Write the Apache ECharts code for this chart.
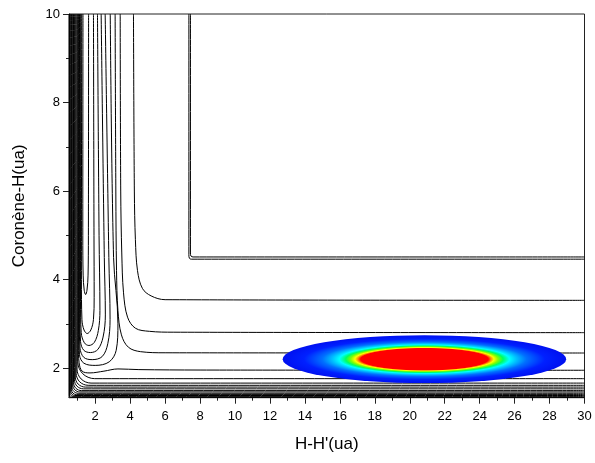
<!DOCTYPE html>
<html><head><meta charset="utf-8">
<script src="https://cdn.jsdelivr.net/npm/echarts@6/dist/echarts.min.js"></script>
<style>html,body{margin:0;padding:0;background:#fff}#c{width:595px;height:463px}</style>
</head><body><div id="c"></div>
<script>
// ---- axis ticks ----
const xLabelValues = [2,4,6,8,10,12,14,16,18,20,22,24,26,28,30];
const xMinorTicks = [1,3,5,7,9,11,13,15,17,19,21,23,25,27,29];
const yLabelValues = [2,4,6,8,10];
const yMinorTicks = [3,5,7,9];

// ---- contour lines: [H-H', Coronene-H] ----
// repulsive-wall contours (down the left edge, along the bottom)
const wallContours = [
  [[0.52,10],[0.52,1.385],[0.553,1.353],[0.634,1.34],[30,1.34]],
  [[0.56,10],[0.56,1.428],[0.61,1.38],[0.731,1.36],[30,1.36]],
  [[0.60,10],[0.60,1.47],[0.667,1.406],[0.829,1.38],[30,1.38]],
  [[0.64,10],[0.64,1.513],[0.724,1.433],[0.926,1.40],[30,1.40]],
  [[0.68,10],[0.68,1.565],[0.78,1.47],[1.023,1.43],[30,1.43]],
  [[0.72,10],[0.72,1.618],[0.837,1.506],[1.12,1.46],[30,1.46]],
  [[0.76,10],[0.76,1.671],[0.894,1.543],[1.217,1.49],[30,1.49]],
  [[0.81,10],[0.81,1.733],[0.96,1.589],[1.324,1.53],[30,1.53]],
  [[0.86,10],[0.86,1.796],[1.027,1.636],[1.431,1.57],[30,1.57]],
  [[0.91,10],[0.91,1.881],[1.11,1.689],[1.596,1.61],[30,1.61]],
  [[0.96,10],[0.96,1.976],[1.194,1.753],[1.76,1.66],[30,1.66]],
  [[1.00,10],[1.00,2.144],[1.285,1.872],[1.971,1.76],[30,1.76]],
  [[1.035,10],[1.035,2.5],[1.08,2.12],[1.25,1.93],[1.7,1.89],[2.5,1.93],[3.3,1.98],[4.5,1.965],[8,1.955],[30,1.95]]
];
// U-shaped contours of the H-H' valley
const valleyContours = [
  [[1.30,10],[1.29,5],[1.31,4.1],[1.37,3.76],[1.45,3.66],[1.53,3.76],[1.59,4.1],[1.61,5],[1.62,10]],
  [[1.23,10],[1.21,4],[1.24,3.1],[1.36,2.86],[1.54,2.78],[1.75,2.86],[1.90,3.1],[1.94,3.6],[1.93,5],[1.90,10]],
  [[1.18,10],[1.16,3.5],[1.20,2.8],[1.38,2.57],[1.64,2.51],[1.95,2.58],[2.18,2.85],[2.27,3.3],[2.22,5],[2.13,10]],
  [[1.14,10],[1.12,3.2],[1.16,2.6],[1.35,2.40],[1.73,2.35],[2.15,2.42],[2.45,2.7],[2.58,3.2],[2.52,4.5],[2.34,10]],
  [[1.10,10],[1.09,3],[1.13,2.45],[1.35,2.24],[1.83,2.19],[2.4,2.26],[2.72,2.55],[2.85,3.1],[2.78,4.5],[2.57,10]],
  [[1.07,10],[1.06,2.9],[1.1,2.3],[1.35,2.11],[2.0,2.06],[2.8,2.14],[3.2,2.4],[3.3,3.0],[3.05,4.5],[2.86,10]]
];
// shoulder contours (from the top, turning to the right)
const shoulderContours = [
  [[3.14,10],[3.18,6],[3.22,4.2],[3.3,3.3],[3.5,2.75],[3.9,2.47],[4.6,2.37],[6,2.345],[30,2.34]],
  [[3.43,10],[3.46,6],[3.52,4.6],[3.62,3.7],[3.85,3.15],[4.3,2.9],[5.1,2.83],[6.5,2.81],[30,2.80]],
  [[4.19,10],[4.24,6],[4.3,4.9],[4.42,4.2],[4.7,3.8],[5.2,3.63],[6.0,3.545],[30,3.53]],
  [[7.36,10],[7.36,4.56],[7.39,4.48],[7.5,4.46],[30,4.46]],
  [[7.45,10],[7.45,4.6],[7.48,4.53],[7.6,4.51],[30,4.51]]
];

// ---- probability density spot ----
const densityCenter = [20.84, 2.2];
const densityHalfSize = [8.11, 0.54];
const densityStops  = [0, 0.45, 0.47, 0.49, 0.52, 0.555, 0.60, 0.65, 0.72, 0.85, 1.0];
const densityColors = ['#ff0000','#ff0000','#ff9000','#ffff00','#80ff00','#00ff60','#00ffff','#00c0ff','#0070ff','#0020ff','#0010f0'];

const chart = echarts.init(document.getElementById('c'), null, {renderer:'canvas'});
const font = 'Liberation Sans, Arial, Helvetica, sans-serif';

const lineSeries = [];
[].concat(wallContours, valleyContours, shoulderContours).forEach(function(pts){
  lineSeries.push({
    type:'line', data: pts, showSymbol:false, symbol:'none', smooth:0.35,
    lineStyle:{color:'#000', width:1}, z:2, silent:true, clip:true
  });
});

const stops = densityStops.map(function(o,i){ return {offset:o, color:densityColors[i]}; });

const densitySeries = {
  type:'custom', z:5, silent:true,
  data:[[densityCenter[0], densityCenter[1], densityHalfSize[0], densityHalfSize[1]]],
  renderItem: function(params, api){
    const c = api.coord([api.value(0), api.value(1)]);
    const s = api.size([api.value(2), api.value(3)], [api.value(0), api.value(1)]);
    return {
      type:'circle', x:c[0], y:c[1], scaleX:Math.abs(s[0]), scaleY:Math.abs(s[1]),
      shape:{cx:0, cy:0, r:1},
      style:{fill:{type:'radial', x:0.5, y:0.5, r:0.5, colorStops:stops}}
    };
  }
};

const option = {
  animation:false,
  backgroundColor:'#fff',
  grid:{left:69, right:10.5, top:14, bottom:65.3, show:true, borderColor:'#222', borderWidth:1, backgroundColor:'transparent'},
  xAxis:[
    {type:'value', min:0.5, max:30, position:'bottom',
     axisLine:{show:true, onZero:false, lineStyle:{color:'#222', width:1}},
     axisTick:{show:true, inside:false, length:6, customValues:xLabelValues, lineStyle:{color:'#222'}},
     axisLabel:{customValues:xLabelValues, margin:12, fontFamily:font, fontSize:13, color:'#000'},
     splitLine:{show:false},
     name:"H-H'(ua)", nameLocation:'middle', nameGap:38,
     nameTextStyle:{fontFamily:font, fontSize:17, color:'#000'}},
    {type:'value', min:0.5, max:30, position:'bottom',
     axisLine:{show:false, onZero:false},
     axisTick:{show:true, inside:false, length:3, customValues:xMinorTicks, lineStyle:{color:'#222'}},
     axisLabel:{show:false}, splitLine:{show:false}}
  ],
  yAxis:[
    {type:'value', min:1.33, max:10, position:'left',
     axisLine:{show:true, onZero:false, lineStyle:{color:'#222', width:1}},
     axisTick:{show:true, inside:false, length:6, customValues:yLabelValues, lineStyle:{color:'#222'}},
     axisLabel:{customValues:yLabelValues, margin:9, fontFamily:font, fontSize:13, color:'#000'},
     splitLine:{show:false},
     name:'Coronène-H(ua)', nameLocation:'middle', nameGap:41,
     nameTextStyle:{fontFamily:font, fontSize:17, color:'#000'}},
    {type:'value', min:1.33, max:10, position:'left',
     axisLine:{show:false, onZero:false},
     axisTick:{show:true, inside:false, length:3, customValues:yMinorTicks, lineStyle:{color:'#222'}},
     axisLabel:{show:false}, splitLine:{show:false}}
  ],
  series: lineSeries.concat([densitySeries])
};
chart.setOption(option);
</script>
</body></html>
